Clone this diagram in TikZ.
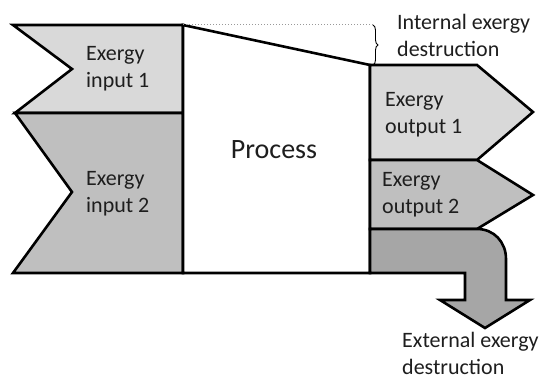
\documentclass[tikz,border=0pt]{standalone}
\usepackage{fontspec}
\setmainfont{Carlito}
\usetikzlibrary{decorations.pathreplacing}
\definecolor{lightfill}{HTML}{D9D9D9}
\definecolor{midfill}{HTML}{BFBFBF}
\definecolor{darkfill}{HTML}{A6A6A6}
\definecolor{txt}{HTML}{1E1E1E}
\tikzset{
  flowbox/.style={draw=black, line width=2.6pt, line join=miter},
  lbl/.style={align=left, inner sep=0pt, text=txt, font=\fontsize{22}{27}\selectfont},
}
\begin{document}
\begin{tikzpicture}[x=1pt, y=-1pt]
\useasboundingbox (0,0) rectangle (547,382);
% inputs
\draw[flowbox, fill=lightfill] (13,25) -- (183,25) -- (183,113) -- (15,113) -- (72,69) -- cycle;
\draw[flowbox, fill=midfill] (15,113) -- (183,113) -- (183,273) -- (13,273) -- (72,192) -- cycle;
% process
\draw[flowbox, fill=white] (183,25) -- (370,65) -- (370,273) -- (183,273) -- cycle;
% outputs
\draw[flowbox, fill=lightfill] (370,65) -- (477,65) -- (533,112) -- (477,160) -- (370,160) -- cycle;
\draw[flowbox, fill=midfill] (370,160) -- (477,160) -- (533,195) -- (477,229) -- (370,229) -- cycle;
% external destruction
\draw[flowbox, fill=darkfill] (370,229) -- (477,229) .. controls (494,229) and (506,242) .. (506,259)
  -- (506,300) -- (530,300) -- (485,328) -- (440,300) -- (465,300) -- (465,273) -- (370,273) -- cycle;
% internal destruction marker
\coordinate (dotA) at (183,25);
\coordinate (dotB) at (373,25);
\coordinate (brB) at (373,65);
\draw[gray!80, dotted, line width=1pt] (dotA) -- (dotB);
\draw[black, line width=0.9pt, decorate, decoration={brace, amplitude=5pt}] (dotB) -- (brB);
% labels
\node[lbl, anchor=west] (in1) at (86,69) {Exergy\\input 1};
\node[lbl, anchor=west] (in2) at (86,194) {Exergy\\input 2};
\node[lbl, anchor=west] (out1) at (385,115) {Exergy\\output 1};
\node[lbl, anchor=west] (out2) at (382,195) {Exergy\\output 2};
\node[inner sep=0pt, text=txt, font=\fontsize{28}{34}\selectfont] (proc) at (274,150) {Process};
\node[lbl, anchor=west] (intd) at (397,35) {Internal exergy\\destruction};
\node[lbl, anchor=west] (extd) at (402,353) {External exergy\\destruction};
\end{tikzpicture}
\end{document}
